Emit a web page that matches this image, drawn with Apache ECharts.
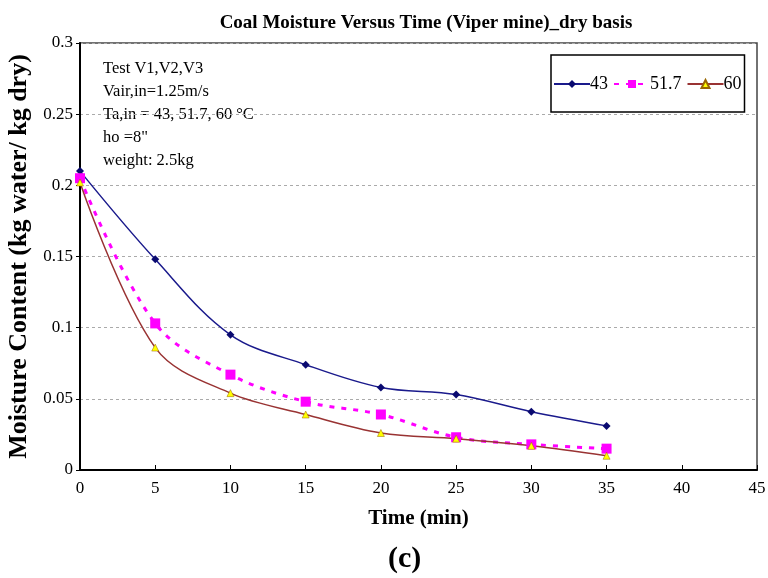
<!DOCTYPE html>
<html><head><meta charset="utf-8">
<script src="https://cdn.jsdelivr.net/npm/echarts@6/dist/echarts.min.js"></script>
<style>html,body{margin:0;padding:0;background:#fff}#c{width:768px;height:578px}</style>
</head><body><div id="c"></div>
<script>
const times = [0, 5, 10, 15, 20, 25, 30, 35];
const s43 = [0.210, 0.148, 0.095, 0.074, 0.058, 0.053, 0.041, 0.031];
const s517 = [0.205, 0.103, 0.067, 0.048, 0.039, 0.023, 0.018, 0.015];
const s60 = [0.202, 0.086, 0.054, 0.039, 0.026, 0.022, 0.017, 0.010];
const seriesNames = ['43', '51.7', '60'];
const noteLines = ['Test V1,V2,V3', 'Vair,in=1.25m/s', 'Ta,in = 43, 51.7, 60 \u00B0C', 'ho =8"', 'weight: 2.5kg'];

const F = '"Liberation Serif","DejaVu Serif",serif';
const pair = a => times.map((t, i) => [t, a[i]]);
const chart = echarts.init(document.getElementById('c'));
chart.setOption({
  animation: false,
  backgroundColor: '#fff',
  title: {
    text: 'Coal Moisture Versus Time (Viper mine)_dry basis',
    left: 421, top: 9, textAlign: 'center',
    textStyle: {fontFamily: F, fontSize: 19, fontWeight: 'bold', color: '#000'}
  },
  grid: {left: 80, right: 11, top: 43, bottom: 108, show: true, borderColor: '#444', borderWidth: 1.5,
         outerBoundsMode: 'none', containLabel: false},
  legend: {
    data: seriesNames,
    left: 551, top: 55,
    orient: 'horizontal',
    borderColor: '#000', borderWidth: 1.5,
    padding: [20, 3, 19, 2],
    itemGap: 5, itemWidth: 36, itemHeight: 10,
    textStyle: {fontFamily: F, fontSize: 18, color: '#000', padding: [0, 0, 0, -5]}
  },
  xAxis: {
    type: 'value', min: 0, max: 45, interval: 5,
    name: 'Time (min)', nameLocation: 'middle', nameGap: 38,
    nameTextStyle: {fontFamily: F, fontSize: 21, fontWeight: 'bold', color: '#000'},
    axisLine: {lineStyle: {color: '#000', width: 2}},
    axisTick: {inside: true, length: 5, lineStyle: {color: '#000'}},
    axisLabel: {fontFamily: F, fontSize: 17, color: '#000', margin: 10},
    splitLine: {show: false}
  },
  yAxis: {
    type: 'value', min: 0, max: 0.3, interval: 0.05,
    name: 'Moisture Content (kg water/ kg dry)', nameLocation: 'middle', nameGap: 42,
    nameTextStyle: {fontFamily: F, fontSize: 26, fontWeight: 'bold', color: '#000'},
    axisLine: {lineStyle: {color: '#000', width: 2}},
    axisTick: {length: 4, lineStyle: {color: '#000'}},
    axisLabel: {fontFamily: F, fontSize: 17, color: '#000', margin: 7, formatter: v => String(+v.toFixed(2))},
    splitLine: {lineStyle: {color: '#aaa', type: [3, 3], width: 1}}
  },
  series: [
    {name: seriesNames[0], type: 'line', data: pair(s43), smooth: 0.35,
     symbol: 'diamond', symbolSize: 8,
     lineStyle: {color: '#1a1a8c', width: 1.5}, itemStyle: {color: '#0a0a70'}},
    {name: seriesNames[1], type: 'line', data: pair(s517), smooth: 0.35,
     symbol: 'rect', symbolSize: 10,
     lineStyle: {color: '#ff00ff', width: 3, type: [5, 7]}, itemStyle: {color: '#ff00ff'}},
    {name: seriesNames[2], type: 'line', data: pair(s60), smooth: 0.35,
     symbol: 'triangle', symbolSize: 7,
     lineStyle: {color: '#993333', width: 1.5}, itemStyle: {color: '#ffff00', borderColor: '#996600', borderWidth: 0.5}}
  ],
  graphic: [
    {type: 'text', left: 103, top: 57,
     style: {text: noteLines.join('\n'), fontFamily: F, fontSize: 16.5, lineHeight: 23, fill: '#000'}},
    {type: 'text', left: 388, top: 544, style: {text: '(c)', fontFamily: F, fontSize: 30, fontWeight: 'bold', fill: '#000'}}
  ]
});
</script></body></html>
